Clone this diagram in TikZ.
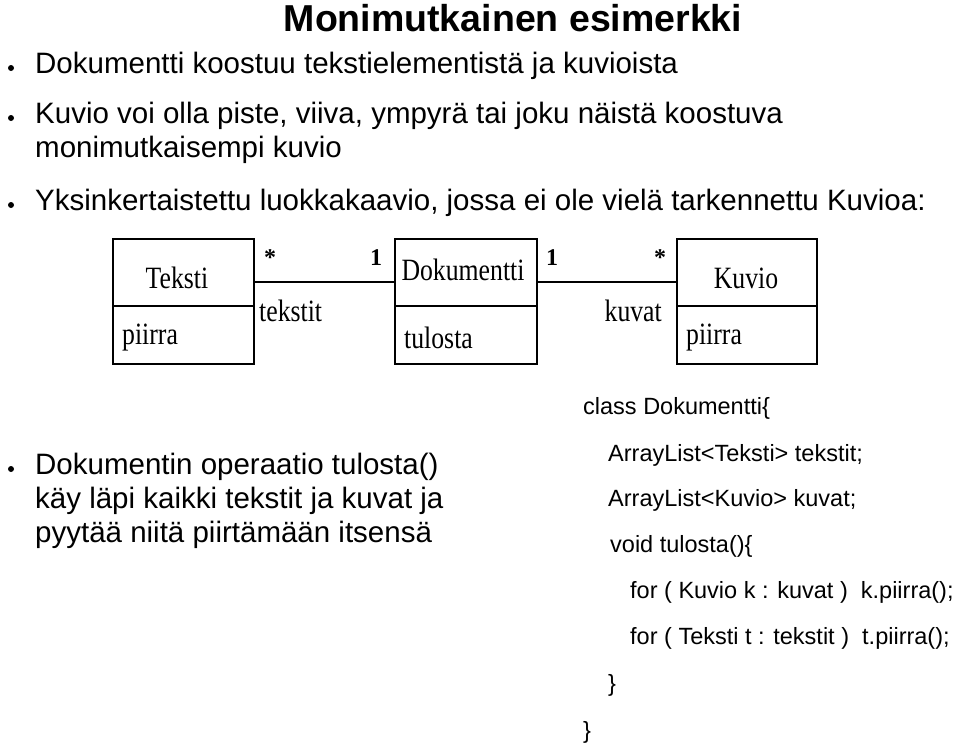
\documentclass[tikz,border=0pt]{standalone}
\usepackage{graphicx}
\usepackage{fontspec}
\setmainfont{Liberation Sans}
\newfontfamily\umlfont{Liberation Serif}
\newcommand\umlsq[1]{\scalebox{0.83}[1]{#1}}
\begin{document}
\begin{tikzpicture}[x=1pt,y=-1pt,
  txt/.style={anchor=west,inner sep=0pt,font=\fontsize{29.5}{32}\selectfont},
  code/.style={anchor=west,inner sep=0pt,font=\fontsize{23.5}{28}\selectfont},
  bul/.style={circle,fill=black,inner sep=0pt,minimum size=6pt},
  cls/.style={draw,line width=1.6pt},
  uml/.style={inner sep=0pt,font=\umlfont\fontsize{31}{34}\selectfont},
  umls/.style={inner sep=0pt,font=\umlfont\bfseries\fontsize{24}{28}\selectfont}]
\useasboundingbox (0,0) rectangle (960,747);
\node[inner sep=0pt,font=\bfseries\fontsize{37.5}{40}\selectfont] (title) at (513,18) {Monimutkainen esimerkki};
\node[bul] (b1) at (11,68) {};
\node[txt] (t1) at (35,66) {Dokumentti koostuu tekstielementistä ja kuvioista};
\node[bul] (b2) at (11,118) {};
\node[txt] (t2) at (35,116) {Kuvio voi olla piste, viiva, ympyrä tai joku näistä koostuva};
\node[txt] (t2b) at (35,150) {monimutkaisempi kuvio};
\node[bul] (b3) at (11,205) {};
\node[txt] (t3) at (35,203) {Yksinkertaistettu luokkakaavio, jossa ei ole vielä tarkennettu Kuvioa:};
% UML
\draw[cls] (113,239) rectangle (254,364); \draw[cls] (113,306) -- (254,306);
\draw[cls] (395,239) rectangle (537,364); \draw[cls] (395,306) -- (537,306);
\draw[cls] (677,239) rectangle (817,364); \draw[cls] (677,306) -- (817,306);
\coordinate (tr) at (254,282); \coordinate (dl) at (395,282);
\coordinate (dr) at (537,282); \coordinate (kl) at (677,282);
\draw[line width=1.4pt] (tr) -- (dl);
\draw[line width=1.4pt] (dr) -- (kl);
\node[uml] (teksti) at (177,278) {\umlsq{Teksti}};
\node[uml] (dok) at (463,270) {\umlsq{Dokumentti}};
\node[uml] (kuvio) at (746,278) {\umlsq{Kuvio}};
\node[uml,anchor=west] (p1) at (122,338) {\umlsq{piirra}};
\node[uml,anchor=west] (tul) at (404,338) {\umlsq{tulosta}};
\node[uml,anchor=west] (p2) at (686,338) {\umlsq{piirra}};
\node[umls] (s1) at (270,258) {*};
\node[umls] (o1) at (376,258) {1};
\node[umls] (o2) at (552,258) {1};
\node[umls] (s2) at (660,258) {*};
\node[uml,anchor=west] (tk) at (259,311) {\umlsq{tekstit}};
\node[uml,anchor=east] (kv) at (662,311) {\umlsq{kuvat}};
% bullet 4
\node[bul] (b4) at (11,469) {};
\node[txt] (t4) at (35,467) {Dokumentin operaatio tulosta()};
\node[txt] (t4b) at (35,501) {käy läpi kaikki tekstit ja kuvat ja};
\node[txt] (t4c) at (35,535) {pyytää niitä piirtämään itsensä};
% code
\node[code] (c1) at (583,408) {class Dokumentti\{};
\node[code] (c2) at (608,455) {ArrayList<Teksti> tekstit;};
\node[code] (c3) at (608,500) {ArrayList<Kuvio> kuvat;};
\node[code] (c4) at (610,546) {void tulosta()\{};
\node[code] (c5) at (630,592) {for ( Kuvio k : kuvat )\ \ k.piirra();};
\node[code] (c6) at (630,638) {for ( Teksti t : tekstit )\ \ t.piirra();};
\node[code] (c7) at (608,685) {\}};
\node[code] (c8) at (583,732) {\}};
\end{tikzpicture}
\end{document}
